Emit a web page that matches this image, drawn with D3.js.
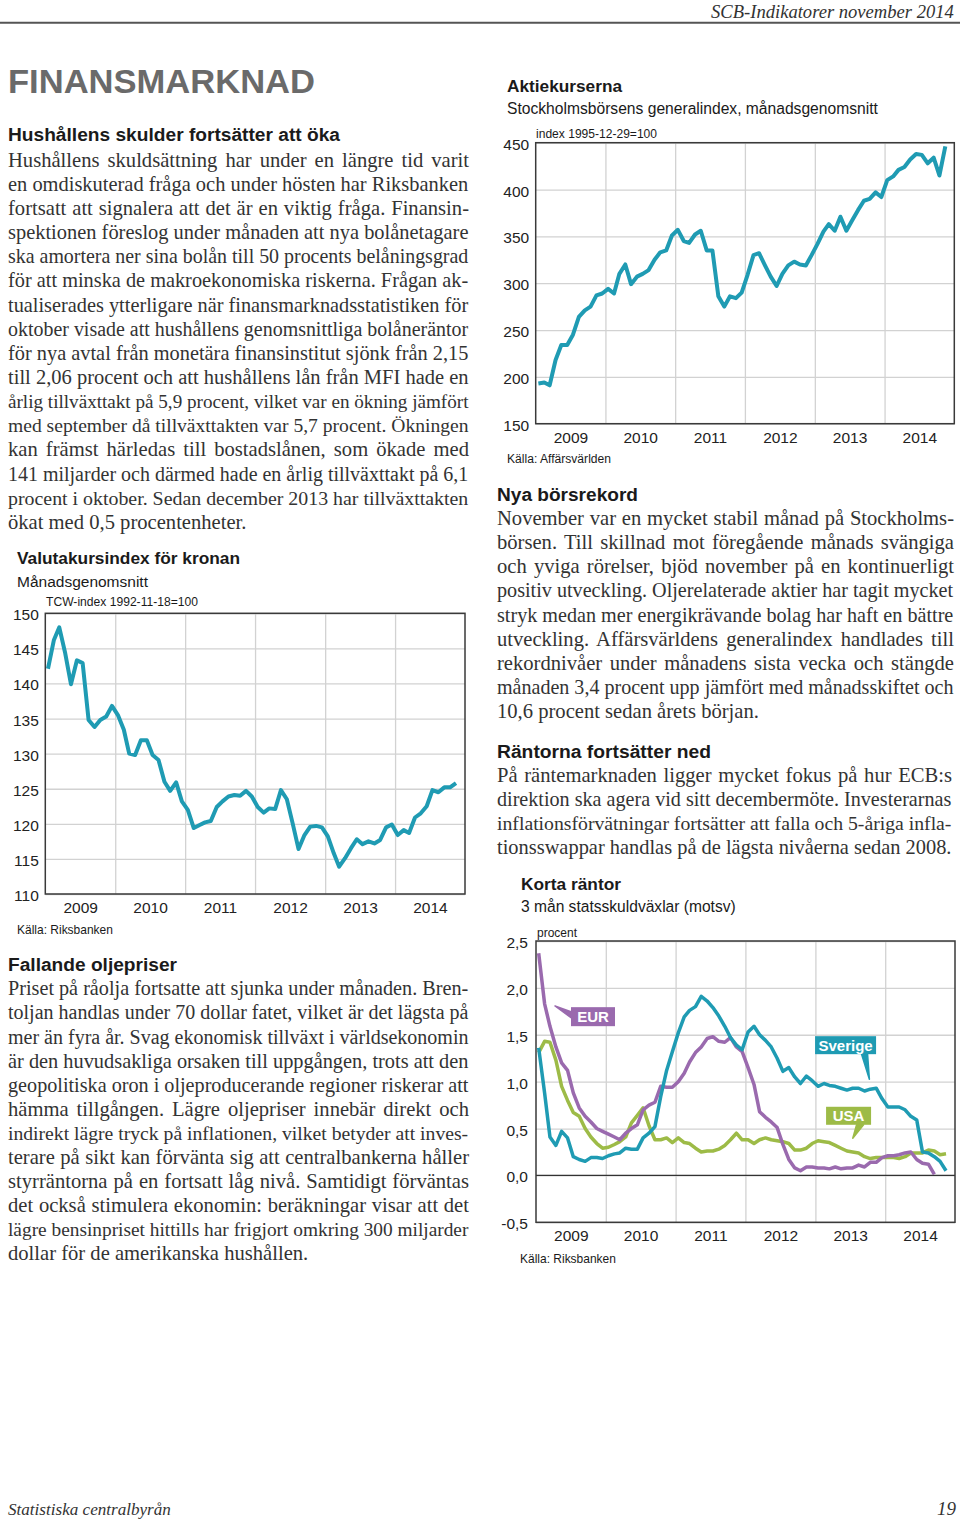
<!DOCTYPE html>
<html><head><meta charset="utf-8">
<script src="https://cdn.jsdelivr.net/npm/d3@7"></script>
<style>body{margin:0;background:#fff}svg{display:block}</style>
</head><body><svg id="page" width="960" height="1523"></svg>
<script>
// ---------------- DATA ----------------
const months = d3.range(71).map(i => new Date(2009, i, 15));
const yearLabels = ["2009","2010","2011","2012","2013","2014"];

const stockValues = [
  193,194,191,218,234,234,245,264,271,275,287,289,
  294,289,310,320,299,307,310,314,325,333,335,351,
  357,345,343,352,356,335,335,286,275,286,284,290,
  309,330,332,319,307,297,310,319,323,320,319,330,
  342,355,363,356,371,356,367,378,388,390,397,392,
  410,414,421,424,432,438,437,428,434,415,446];
const stockTicks = [150,200,250,300,350,400,450];

const tcwValues = [
  142.1,146.2,148.0,144.3,139.9,143.3,142.9,134.8,133.8,134.8,135.3,136.8,
  135.5,133.4,130.0,129.8,131.9,131.9,129.8,129.1,126.0,124.7,125.9,123.2,
  122.0,119.4,119.8,120.2,120.4,122.4,123.2,123.9,124.1,124.0,124.7,123.9,
  122.4,121.6,122.2,122.1,124.8,123.5,120.1,116.4,118.4,119.6,119.7,119.5,
  118.2,115.8,113.9,115.1,116.5,117.8,117.1,117.5,117.2,117.7,119.5,119.9,
  118.4,119.1,118.7,120.9,121.5,122.5,124.8,124.5,125.2,125.2,125.8];
const tcwTicks = [110,115,120,125,130,135,140,145,150];

const sverigeValues = [
  1.36,0.88,0.41,0.32,0.47,0.40,0.20,0.17,0.15,0.19,0.19,0.18,
  0.21,0.23,0.24,0.29,0.28,0.28,0.40,0.45,0.52,0.84,1.12,1.32,
  1.52,1.69,1.76,1.80,1.91,1.86,1.79,1.70,1.59,1.47,1.39,1.34,
  1.53,1.59,1.50,1.44,1.37,1.25,1.11,1.15,1.05,0.98,1.06,1.01,
  0.95,0.98,0.96,0.95,0.93,0.91,0.93,0.93,0.90,0.92,0.93,0.82,
  0.73,0.73,0.73,0.70,0.63,0.59,0.25,0.24,0.20,0.15,0.05];
const eurValues = [
  2.37,1.83,1.59,1.37,1.20,1.12,0.88,0.72,0.63,0.57,0.50,0.47,
  0.44,0.41,0.38,0.45,0.50,0.54,0.70,0.75,0.78,0.95,0.94,0.94,
  1.00,1.09,1.21,1.31,1.37,1.46,1.48,1.43,1.42,1.47,1.37,1.32,
  1.15,0.97,0.68,0.62,0.57,0.51,0.33,0.17,0.08,0.05,0.09,0.09,
  0.08,0.08,0.07,0.09,0.07,0.08,0.08,0.11,0.09,0.14,0.14,0.19,
  0.21,0.21,0.22,0.24,0.25,0.17,0.13,0.12,0.01];
const usaValues = [
  1.31,1.43,1.42,1.23,0.95,0.80,0.67,0.63,0.50,0.41,0.34,0.29,
  0.30,0.33,0.36,0.41,0.56,0.64,0.72,0.53,0.38,0.38,0.40,0.35,
  0.40,0.35,0.34,0.29,0.25,0.26,0.26,0.28,0.32,0.38,0.45,0.38,
  0.38,0.34,0.38,0.40,0.38,0.37,0.36,0.34,0.27,0.27,0.29,0.34,
  0.37,0.36,0.35,0.32,0.29,0.26,0.25,0.24,0.20,0.18,0.19,0.19,
  0.19,0.19,0.18,0.20,0.24,0.24,0.24,0.27,0.26,0.22,0.23];
const rateTicks = [-0.5,0,0.5,1,1.5,2,2.5];
const rateTickLabels = ["-0,5","0,0","0,5","1,0","1,5","2,0","2,5"];
const rateSeriesNames = ["USA","EUR","Sverige"];

// ---------------- TEXT ----------------
const p1 = [
"Hushållens skuldsättning har under en längre tid varit",
"en omdiskuterad fråga och under hösten har Riksbanken",
"fortsatt att signalera att det är en viktig fråga. Finansin-",
"spektionen föreslog under månaden att nya bolånetagare",
"ska amortera ner sina bolån till 50 procents belåningsgrad",
"för att minska de makroekonomiska riskerna. Frågan ak-",
"tualiserades ytterligare när finansmarknadsstatistiken för",
"oktober visade att hushållens genomsnittliga bolåneräntor",
"för nya avtal från monetära finansinstitut sjönk från 2,15",
"till 2,06 procent och att hushållens lån från MFI hade en",
"årlig tillväxttakt på 5,9 procent, vilket var en ökning jämfört",
"med september då tillväxttakten var 5,7 procent. Ökningen",
"kan främst härledas till bostadslånen, som ökade med",
"141 miljarder och därmed hade en årlig tillväxttakt på 6,1",
"procent i oktober. Sedan december 2013 har tillväxttakten",
"ökat med 0,5 procentenheter."];
const p2 = [
"Priset på råolja fortsatte att sjunka under månaden. Bren-",
"toljan handlas under 70 dollar fatet, vilket är det lägsta på",
"mer än fyra år. Svag ekonomisk tillväxt i världsekonomin",
"är den huvudsakliga orsaken till uppgången, trots att den",
"geopolitiska oron i oljeproducerande regioner riskerar att",
"hämma tillgången. Lägre oljepriser innebär direkt och",
"indirekt lägre tryck på inflationen, vilket betyder att inves-",
"terare på sikt kan förvänta sig att centralbankerna håller",
"styrräntorna på en fortsatt låg nivå. Samtidigt förväntas",
"det också stimulera ekonomin: beräkningar visar att det",
"lägre bensinpriset hittills har frigjort omkring 300 miljarder",
"dollar för de amerikanska hushållen."];
const p3 = [
"November var en mycket stabil månad på Stockholms-",
"börsen. Till skillnad mot föregående månads svängiga",
"och yviga rörelser, bjöd november på en kontinuerligt",
"positiv utveckling. Oljerelaterade aktier har tagit mycket",
"stryk medan mer energikrävande bolag har haft en bättre",
"utveckling. Affärsvärldens generalindex handlades till",
"rekordnivåer under månadens sista vecka och stängde",
"månaden 3,4 procent upp jämfört med månadsskiftet och",
"10,6 procent sedan årets början."];
const p4 = [
"På räntemarknaden ligger mycket fokus på hur ECB:s",
"direktion ska agera vid sitt decembermöte. Investerarnas",
"inflationsförvätningar fortsätter att falla och 5-åriga infla-",
"tionsswappar handlas på de lägsta nivåerna sedan 2008."];

// ---------------- DRAWING ----------------
const SANS = "'Liberation Sans', Arial, Helvetica, sans-serif";
const SERIF = "'Liberation Serif', 'Times New Roman', serif";
const svg = d3.select("#page");

// fit a text to a target width: shrink the font if too wide, stretch glyphs if too narrow
function fit(t, width, size) {
  const natural = t.node().getComputedTextLength();
  if (natural > width) {
    t.attr("font-size", size * width / natural);
  } else {
    t.attr("textLength", width).attr("lengthAdjust", "spacingAndGlyphs");
  }
}

function text(x, y, s, o = {}) {
  const size = o.size || 16;
  const t = svg.append("text").attr("x", x).attr("y", y).text(s)
    .attr("font-family", o.family || SANS)
    .attr("font-size", size)
    .attr("font-weight", o.weight || "normal")
    .attr("font-style", o.style || "normal")
    .attr("fill", o.fill || "#1a1a1a");
  if (o.anchor) t.attr("text-anchor", o.anchor);
  if (o.width) fit(t, o.width, size);
  return t;
}

function para(lines, x, y0, lh, width, justifyLast) {
  const size = 20.6;
  lines.forEach((line, i) => {
    const t = text(x, y0 + i * lh, line, {family: SERIF, size, fill: "#333"});
    if (i === lines.length - 1 && !justifyLast) return;
    const natural = t.node().getComputedTextLength();
    const spaces = (line.match(/ /g) || []).length;
    const extra = width - natural;
    if (extra >= 0 && spaces > 0) {
      t.attr("word-spacing", extra / spaces);
      const after = t.node().getComputedTextLength();
      if (Math.abs(after - width) > 2) {
        t.attr("word-spacing", null).attr("textLength", width).attr("lengthAdjust", "spacing");
      }
    } else if (extra < 0) {
      t.attr("font-size", size * (width - 0.5) / natural);
    }
  });
}

// header / footer
text(711, 18, "SCB-Indikatorer november 2014", {family: SERIF, style: "italic", size: 19.5, fill: "#333", width: 243});
svg.append("line").attr("x1", 0).attr("x2", 960).attr("y1", 22.7).attr("y2", 22.7)
  .attr("stroke", "#555").attr("stroke-width", 2);
text(8, 1515, "Statistiska centralbyrån", {family: SERIF, style: "italic", size: 19, fill: "#333", width: 163});
text(956, 1515, "19", {family: SERIF, style: "italic", size: 19, fill: "#333", anchor: "end"});

text(8, 93, "FINANSMARKNAD", {weight: "bold", size: 33, fill: "#6a6a6a", width: 307});

// left column
text(8, 141, "Hushållens skulder fortsätter att öka", {weight: "bold", size: 18, width: 332});
para(p1, 8, 166.6, 24.15, 461, false);
text(8, 970.7, "Fallande oljepriser", {weight: "bold", size: 18, width: 169});
para(p2, 8, 995.3, 24.1, 461, false);

// right column
text(497, 500.7, "Nya börsrekord", {weight: "bold", size: 18, width: 141});
para(p3, 497, 525, 24.15, 457, false);
text(497, 758.3, "Räntorna fortsätter ned", {weight: "bold", size: 18, width: 214});
para(p4, 497, 781.8, 24.15, 455, true);

// chart titles
text(507, 92, "Aktiekurserna", {weight: "bold", size: 17, width: 115});
text(507, 114, "Stockholmsbörsens generalindex, månadsgenomsnitt", {size: 16, width: 371});
text(536, 138, "index 1995-12-29=100", {size: 12, width: 121});
text(507, 463, "Källa: Affärsvärlden", {size: 12, width: 104});

text(17, 564, "Valutakursindex för kronan", {weight: "bold", size: 17, width: 223});
text(17, 586.5, "Månadsgenomsnitt", {size: 16, width: 131});
text(46, 605.5, "TCW-index 1992-11-18=100", {size: 12, width: 152});
text(17, 934, "Källa: Riksbanken", {size: 12, width: 96});

text(521, 890, "Korta räntor", {weight: "bold", size: 17, width: 100});
text(521, 911.5, "3 mån statsskuldväxlar (motsv)", {size: 16, width: 215});
text(537, 937, "procent", {size: 12, width: 40});
text(520, 1263, "Källa: Riksbanken", {size: 12, width: 96});

const COLORS = {teal: "#1f9bb3", purple: "#9a6aae", green: "#9dbb47"};

function drawChart(c) {
  const x = d3.scaleTime().domain([new Date(2009, 0, 1), new Date(2015, 0, 1)]).range([c.left, c.right]);
  const y = d3.scaleLinear().domain(c.domain).range([c.bottom, c.top]);
  const g = svg.append("g");
  const w = c.right - c.left, h = c.bottom - c.top;
  const yearStarts = d3.range(2010, 2015).map(yy => new Date(yy, 0, 1));
  const yearMids = yearLabels.map(s => new Date(+s, 6, 2));

  g.append("g").attr("transform", `translate(${c.left},0)`)
    .call(d3.axisLeft(y).tickValues(c.ticks).tickSize(-w).tickFormat(""))
    .call(a => a.select(".domain").remove())
    .call(a => a.selectAll("line").attr("stroke", "#d2d2d2").attr("stroke-width", 1.3));
  g.append("g").attr("transform", `translate(0,${c.bottom})`)
    .call(d3.axisBottom(x).tickValues(yearStarts).tickSize(-h).tickFormat(""))
    .call(a => a.select(".domain").remove())
    .call(a => a.selectAll("line").attr("stroke", "#d2d2d2").attr("stroke-width", 1.3));

  g.append("g").attr("transform", `translate(${c.left},0)`)
    .call(d3.axisLeft(y).tickValues(c.ticks).tickSize(0).tickPadding(c.pad)
      .tickFormat((d, i) => c.labels ? c.labels[i] : d))
    .call(a => a.select(".domain").remove())
    .call(a => a.selectAll("text").attr("font-size", 15.5).attr("font-family", SANS)
      .attr("fill", "#222").attr("dy", "0.42em"));
  g.append("g").attr("transform", `translate(0,${c.bottom})`)
    .call(d3.axisBottom(x).tickValues(yearMids).tickSize(0).tickFormat((d, i) => yearLabels[i]))
    .call(a => a.select(".domain").remove())
    .call(a => a.selectAll("text").attr("font-size", 15.5).attr("font-family", SANS)
      .attr("fill", "#222").attr("dy", null).attr("y", 19));

  if (c.zero) {
    g.append("line").attr("x1", c.left).attr("x2", c.right)
      .attr("y1", y(0)).attr("y2", y(0)).attr("stroke", "#333").attr("stroke-width", 1.4);
  }

  const line = d3.line().x(d => x(d[0])).y(d => y(d[1]));
  c.series.forEach(s => {
    g.append("path").datum(s.values.map((v, i) => [months[i], v]))
      .attr("d", line).attr("fill", "none").attr("stroke", s.color)
      .attr("stroke-width", s.width).attr("stroke-linejoin", "round").attr("stroke-linecap", "butt");
  });

  g.append("rect").attr("x", c.left).attr("y", c.top).attr("width", w).attr("height", h)
    .attr("fill", "none").attr("stroke", "#3a3a3a").attr("stroke-width", 1.5);
  return {x, y, g};
}

drawChart({left: 535.7, right: 954.3, top: 142.7, bottom: 423.7, domain: [150, 450],
  ticks: stockTicks, pad: 6.5,
  series: [{values: stockValues, color: COLORS.teal, width: 4}]});

drawChart({left: 45.3, right: 465, top: 613.3, bottom: 894, domain: [110, 150],
  ticks: tcwTicks, pad: 6.5,
  series: [{values: tcwValues, color: COLORS.teal, width: 4}]});

const rc = drawChart({left: 536, right: 955, top: 941, bottom: 1222.3, domain: [-0.5, 2.5],
  ticks: rateTicks, labels: rateTickLabels, pad: 8, zero: true,
  series: [
    {values: usaValues, color: COLORS.green, width: 3.5},
    {values: eurValues, color: COLORS.purple, width: 3.5},
    {values: sverigeValues, color: COLORS.teal, width: 3.5}]});

// series labels with pointers (positions in data units)
const yr = f => new Date(new Date(2009, 0, 1).getTime() + f * 365.25 * 864e5);
const annots = [
  {name: rateSeriesNames[1], color: COLORS.purple, cx: 0.816, cy: 1.693, w: 44, h: 19,
   base: [[-22, -5], [-22, 1]], tip: [0.272, 1.807]},
  {name: rateSeriesNames[2], color: COLORS.teal, cx: 4.432, cy: 1.389, w: 61, h: 18,
   base: [[16, 9], [22, 9]], tip: [4.773, 1.025]},
  {name: rateSeriesNames[0], color: COLORS.green, cx: 4.475, cy: 0.636, w: 45, h: 18,
   base: [[8, 9], [15, 9]], tip: [4.535, 0.396]}];
annots.forEach(a => {
  const px = rc.x(yr(a.cx)), py = rc.y(a.cy);
  const tx = rc.x(yr(a.tip[0])), ty = rc.y(a.tip[1]);
  rc.g.append("polygon")
    .attr("points", [[px + a.base[0][0], py + a.base[0][1]], [px + a.base[1][0], py + a.base[1][1]], [tx, ty]].map(p => p.join(",")).join(" "))
    .attr("fill", a.color).attr("stroke", a.color).attr("stroke-width", 1.5).attr("stroke-linejoin", "round");
  rc.g.append("rect").attr("x", px - a.w / 2).attr("y", py - a.h / 2).attr("width", a.w).attr("height", a.h)
    .attr("fill", a.color);
  rc.g.append("text").attr("x", px).attr("y", py + 5.5).attr("text-anchor", "middle")
    .attr("font-family", SANS).attr("font-weight", "bold").attr("font-size", 15).attr("fill", "#fff")
    .text(a.name);
});
</script></body></html>
